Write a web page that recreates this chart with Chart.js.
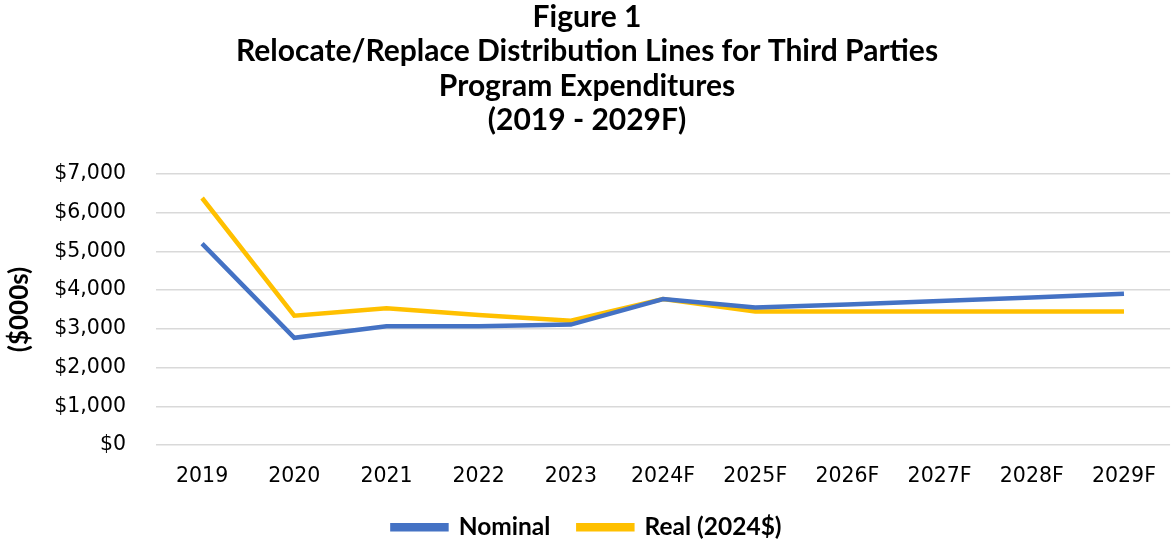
<!DOCTYPE html>
<html>
<head>
<meta charset="utf-8">
<script src="https://cdn.jsdelivr.net/npm/chart.js@4/dist/chart.umd.min.js"></script>
<style>
  html, body { margin: 0; padding: 0; background: #fff; }
  #wrap { width: 1175px; height: 541px; }
</style>
</head>
<body>
<div id="wrap"><canvas id="c" width="1175" height="541"></canvas></div>
<script>
// Program expenditure, $000s
const years = ['2019', '2020', '2021', '2022', '2023', '2024F', '2025F', '2026F', '2027F', '2028F', '2029F'];
const nominal = [5200, 2770, 3070, 3070, 3110, 3770, 3550, 3630, 3720, 3810, 3910];
const real2024 = [6380, 3340, 3530, 3360, 3210, 3770, 3450, 3450, 3450, 3450, 3450];
const titleLines = [
  'Figure 1',
  'Relocate/Replace Distribution Lines for Third Parties',
  'Program Expenditures',
  '(2019 - 2029F)'
];

const BLUE = '#4472C4';
const GOLD = '#FFC000';
const tickFont = { family: 'DejaVu Sans, Verdana, sans-serif', size: 20.5 };
const boldFont = 'Lato, "Open Sans", sans-serif';

// Fix the legend block height so the key sits close to the bottom edge
const legendHeight = {
  id: 'legendHeight',
  afterInit(chart) {
    const lg = chart.legend;
    if (!lg) return;
    const fit = lg.fit.bind(lg);
    lg.fit = function () { fit(); this.height = 54; };
  }
};

new Chart(document.getElementById('c'), {
  type: 'line',
  data: {
    labels: years,
    datasets: [
      { label: 'Nominal', data: nominal, borderColor: BLUE, backgroundColor: BLUE,
        borderWidth: 4.5, pointRadius: 0, tension: 0, fill: false },
      { label: 'Real (2024$)', data: real2024, borderColor: GOLD, backgroundColor: GOLD,
        borderWidth: 4.5, pointRadius: 0, tension: 0, fill: false }
    ]
  },
  plugins: [legendHeight],
  options: {
    responsive: false,
    animation: false,
    layout: { padding: { left: 0, right: 1, top: 0, bottom: 0 } },
    plugins: {
      title: {
        display: true,
        text: titleLines,
        color: '#000',
        font: { family: boldFont, size: 30, weight: 'bold', lineHeight: 1.15 },
        padding: { top: 0, bottom: 36 }
      },
      legend: {
        position: 'bottom',
        labels: {
          color: '#000',
          font: { family: boldFont, size: 24.5, weight: 'bold' },
          boxWidth: 54,
          boxHeight: 4,
          padding: 28
        }
      },
      tooltip: { enabled: false }
    },
    scales: {
      x: {
        offset: true,
        grid: { display: false, drawTicks: false },
        border: { display: false },
        ticks: { color: '#000', font: tickFont, padding: 19, maxRotation: 0 },
        afterFit: s => { s.height = 42; }
      },
      y: {
        min: 0, max: 7000,
        grid: { color: '#d9d9d9', lineWidth: 1.5, drawTicks: false },
        border: { display: false },
        ticks: {
          stepSize: 1000, color: '#000', font: tickFont, padding: 30,
          callback: v => '$' + v.toLocaleString('en-US')
        },
        title: {
          display: true,
          text: '($000s)',
          color: '#000',
          font: { family: boldFont, size: 26, weight: 'bold' },
          padding: { top: 4, bottom: 20 }
        },
        afterFit: s => { s.width = 156; }
      }
    }
  }
});
</script>
</body>
</html>
